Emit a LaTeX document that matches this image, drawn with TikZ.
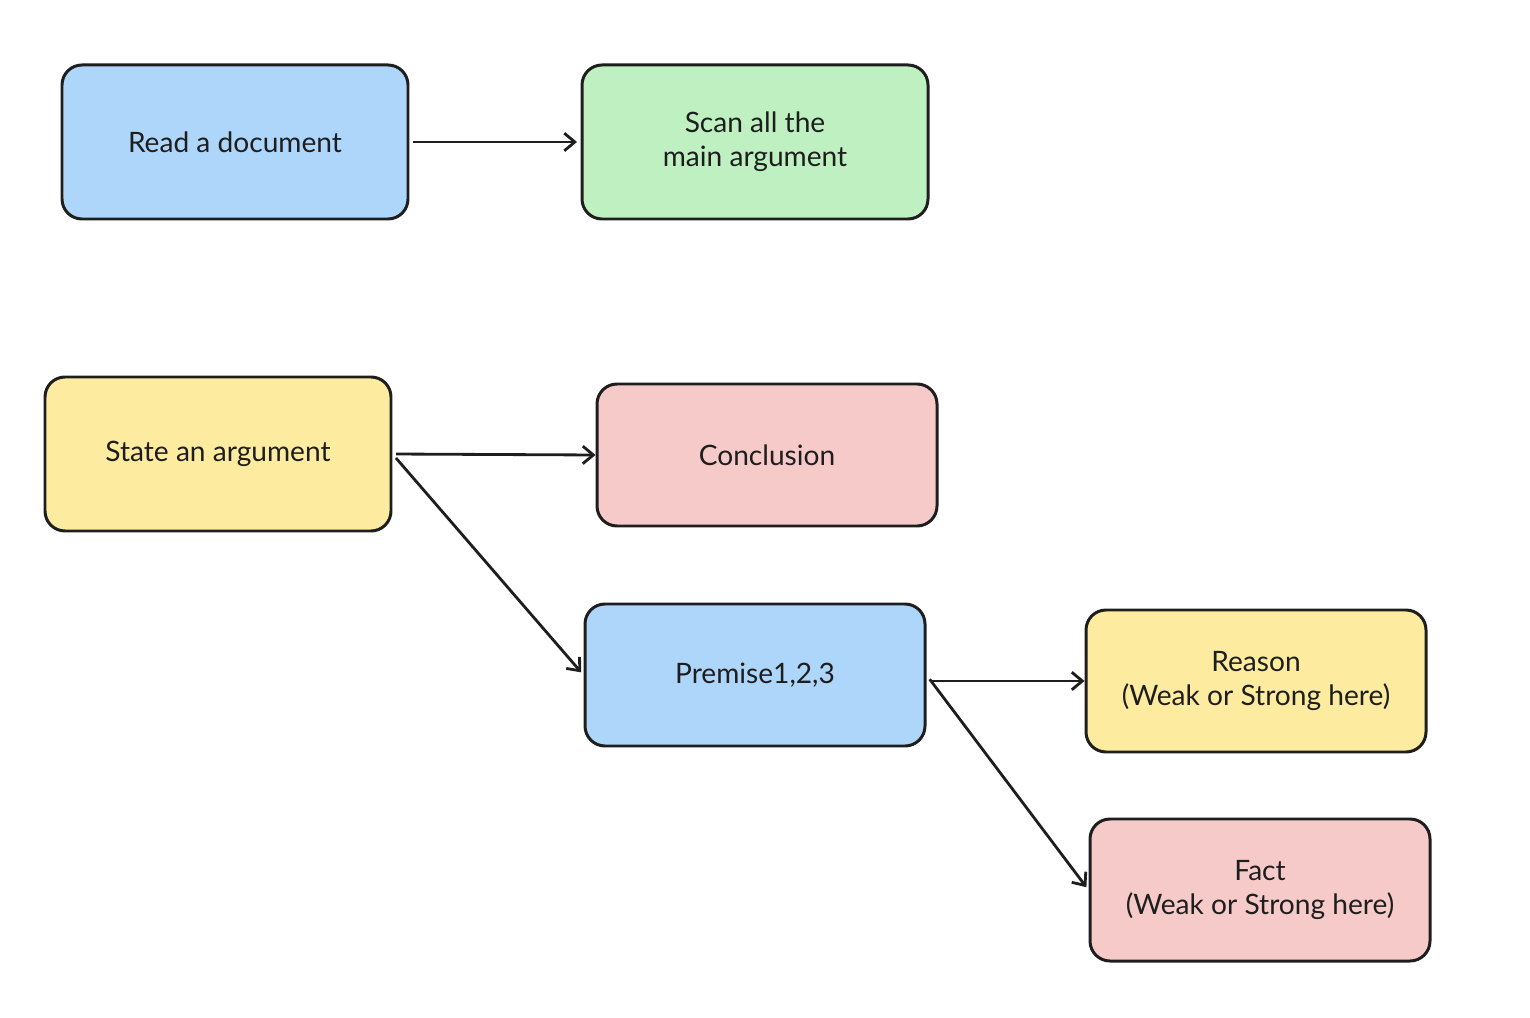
\documentclass[tikz,border=0pt]{standalone}
\usepackage{fontspec}
\setmainfont{Lato}
\usetikzlibrary{arrows.meta}

\definecolor{inkline}{HTML}{1E1E1E}
\definecolor{fillblue}{HTML}{AED6FA}
\definecolor{fillgreen}{HTML}{BFF0C1}
\definecolor{fillyellow}{HTML}{FDEBA0}
\definecolor{fillpink}{HTML}{F7CACA}

\begin{document}
\begin{tikzpicture}[
   box/.style={rectangle,rounded corners=0.4cm,draw=inkline,line width=1.7pt,
    minimum width=6.8cm,minimum height=2.84cm,align=center,
    font=\fontsize{16}{19.5}\selectfont,text=inkline},
   bigbox/.style={box,minimum width=6.92cm,minimum height=3.08cm},
   link/.style={draw=inkline,line width=1.6pt,-{Straight Barb[length=6pt,width=10pt,line width=1.6pt]}}
    ]

  \useasboundingbox (0,0) rectangle (30.6,-20.36);

  % -- top row
  \node[bigbox,fill=fillblue] at (4.70,-2.84) (read) {Read a document};
  \node[bigbox,fill=fillgreen] at (15.10,-2.84) (scan) {Scan all the\\main argument};

  % -- argument
  \node[bigbox,fill=fillyellow] at (4.36,-9.08) (state) {State an argument};
  \node[box,fill=fillpink] at (15.34,-9.10) (concl) {Conclusion};
  \node[box,fill=fillblue] at (15.10,-13.50) (prem) {Premise1,2,3};

  % -- support
  \node[box,fill=fillyellow] at (25.12,-13.62) (reason) {Reason\\(Weak or Strong here)};
  \node[box,fill=fillpink] at (25.20,-17.80) (fact) {Fact\\(Weak or Strong here)};

  % -- arrows
  \draw[link,shorten <=2pt,shorten >=2pt] (read) -- (scan);
  \draw[link,shorten <=2pt] (state.east) -- (concl.west);
  \draw[link,shorten <=3pt,shorten >=2pt] (state.east) -- (prem.west);
  \draw[link,shorten <=2pt] (prem.east |- reason.west) -- (reason.west);
  \draw[link,shorten <=3pt,shorten >=2pt] (prem.east) -- (fact.west);

\end{tikzpicture}
\end{document}
